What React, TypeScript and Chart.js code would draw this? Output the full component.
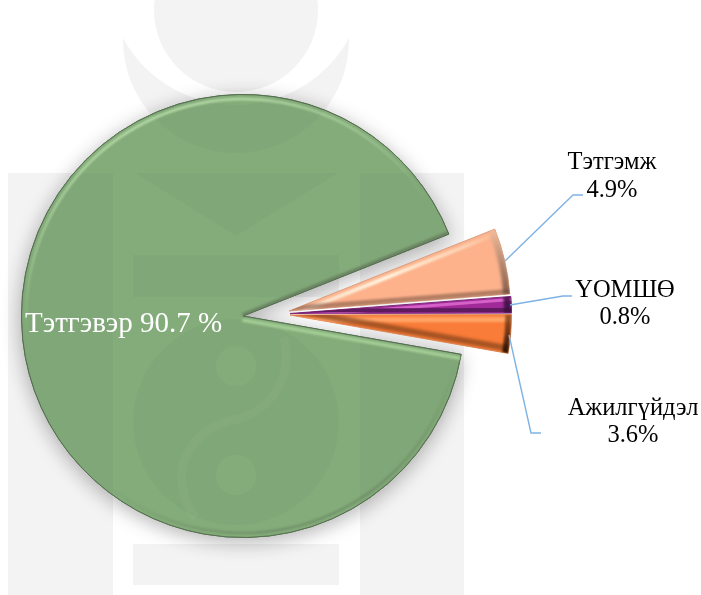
import React, { useEffect, useRef } from "react";
import { Chart, registerables } from "chart.js";

Chart.register(...registerables);

// Category names and the percentages printed on the labels
const categories = ["Тэтгэмж", "ҮОМШӨ", "Ажилгүйдэл", "Тэтгэвэр"];
const printedPercents = ["4.9%", "0.8%", "3.6%", "90.7 %"];
// Slice shares as they are drawn in the picture (measured from the slice angles)
const drawnShares = [4.8, 1.2, 2.8, 91.2];
const sliceColors = ["#fdb28c", "#a02a98", "#f97c38", "#84ac7a"];
const sliceBorders = ["#d9a184", "#7d2a78", "#e08a58", "#566f50"];

const SERIF = '"Liberation Serif", "Times New Roman", serif';

function drawWatermark(ctx: CanvasRenderingContext2D, fill: string) {
  ctx.save();
  ctx.fillStyle = fill;
  ctx.beginPath();
  ctx.arc(236, 10, 82, 0, Math.PI * 2);
  ctx.closePath();
  // crescent
  ctx.moveTo(123, 38);
  ctx.arc(236, 40, 113, Math.PI, 0, true);
  ctx.arc(236, -24, 129, 0.5, Math.PI - 0.5, false);
  ctx.closePath();
  // columns and bars
  ctx.rect(8, 173, 105, 422);
  ctx.rect(360, 173, 104, 422);
  ctx.rect(133, 255, 206, 42);
  ctx.rect(133, 544, 206, 41);
  // triangle
  ctx.moveTo(135, 173);
  ctx.lineTo(338, 173);
  ctx.lineTo(236, 236);
  ctx.closePath();
  // yin-yang disc with two dots cut out
  ctx.moveTo(339, 422);
  ctx.arc(236, 422, 103, 0, Math.PI * 2);
  ctx.closePath();
  ctx.moveTo(256, 366);
  ctx.arc(236, 366, 20, 0, Math.PI * 2, true);
  ctx.closePath();
  ctx.moveTo(256, 475);
  ctx.arc(236, 475, 20, 0, Math.PI * 2, true);
  ctx.closePath();
  ctx.fill("nonzero");
  ctx.restore();
}

function sBand(ctx: CanvasRenderingContext2D, color: string) {
  ctx.save();
  ctx.strokeStyle = color;
  ctx.lineWidth = 9;
  ctx.beginPath();
  ctx.moveTo(283, 337);
  ctx.bezierCurveTo(295, 368, 275, 412, 233, 420);
  ctx.bezierCurveTo(195, 428, 176, 462, 183, 490);
  ctx.bezierCurveTo(185, 502, 190, 511, 196, 518);
  ctx.stroke();
  ctx.restore();
}

function arcPath(ctx: CanvasRenderingContext2D, a: any) {
  ctx.beginPath();
  ctx.moveTo(a.x, a.y);
  ctx.arc(a.x, a.y, a.outerRadius, a.startAngle, a.endAngle);
  ctx.closePath();
}

function edge(ctx: CanvasRenderingContext2D, a: any, angle: number, inset: number, width: number, color: string | CanvasGradient, blur = 1) {
  const nx = -Math.sin(angle) * inset;
  const ny = Math.cos(angle) * inset;
  ctx.save();
  ctx.filter = `blur(${blur}px)`;
  ctx.strokeStyle = color;
  ctx.lineWidth = width;
  ctx.beginPath();
  ctx.moveTo(a.x + nx, a.y + ny);
  ctx.lineTo(a.x + nx + Math.cos(angle) * a.outerRadius, a.y + ny + Math.sin(angle) * a.outerRadius);
  ctx.stroke();
  ctx.restore();
}

function rim(ctx: CanvasRenderingContext2D, a: any, inset: number, width: number, color: string | CanvasGradient, blur = 1) {
  ctx.save();
  ctx.filter = `blur(${blur}px)`;
  ctx.strokeStyle = color;
  ctx.lineWidth = width;
  ctx.beginPath();
  ctx.arc(a.x, a.y, a.outerRadius - inset, a.startAngle, a.endAngle);
  ctx.stroke();
  ctx.restore();
}

const piePlugin = {
  id: "piePlugin",
  afterDatasetsUpdate(chart: any) {
    // The small slices share one displaced apex
    const shifts = [[46, -5], [47, -2.5], [47, -1]];
    const arcs = chart.getDatasetMeta(0).data;
    shifts.forEach(([dx, dy], i) => {
      arcs[i].x += dx;
      arcs[i].y += dy;
    });
  },
  beforeDatasetsDraw(chart: any) {
    const ctx: CanvasRenderingContext2D = chart.ctx;
    drawWatermark(ctx, "#f3f3f3");
    sBand(ctx, "#ffffff");
    const green = chart.getDatasetMeta(0).data[3];
    ctx.save();
    ctx.shadowColor = "rgba(0,0,0,0.3)";
    ctx.shadowBlur = 20;
    ctx.shadowOffsetY = 4;
    green.draw(ctx);
    ctx.restore();
  },
  afterDatasetsDraw(chart: any) {
    const ctx: CanvasRenderingContext2D = chart.ctx;
    const [peach, purple, orange, green] = chart.getDatasetMeta(0).data;

    // green slice
    ctx.save();
    arcPath(ctx, green);
    ctx.clip();
    drawWatermark(ctx, "rgba(0,0,0,0.022)");
    sBand(ctx, "rgba(255,255,255,0.03)");
    const g = ctx.createLinearGradient(170, 90, 330, 530);
    g.addColorStop(0, "rgba(195,232,180,0.95)");
    g.addColorStop(0.22, "rgba(190,228,176,0.45)");
    g.addColorStop(0.42, "rgba(170,210,155,0)");
    g.addColorStop(0.75, "rgba(90,110,85,0)");
    g.addColorStop(1, "rgba(80,95,75,0.42)");
    rim(ctx, green, 4.5, 2.5, g, 0.9);
    edge(ctx, green, green.startAngle, 4, 3.5, "#a4cf96", 1);
    edge(ctx, green, green.endAngle, -1, 4, "rgba(95,115,90,0.7)", 1);
    ctx.restore();

    // peach slice
    ctx.save();
    arcPath(ctx, peach);
    ctx.clip();
    const p = ctx.createLinearGradient(peach.x, peach.y, peach.x + 210, peach.y);
    p.addColorStop(0, "#f8d8c0");
    p.addColorStop(0.45, "#fff6e0");
    p.addColorStop(0.85, "#fdd0b0");
    p.addColorStop(1, "#fdb28c");
    edge(ctx, peach, peach.startAngle, 5, 4, p, 1);
    edge(ctx, peach, peach.endAngle, -2.5, 5, "rgba(130,90,70,0.6)", 1);
    const pr = ctx.createLinearGradient(0, peach.y - 82, 0, peach.y - 15);
    pr.addColorStop(0, "rgba(240,190,160,0.85)");
    pr.addColorStop(1, "rgba(90,65,50,0.75)");
    rim(ctx, peach, 3, 7, pr, 1.5);
    ctx.restore();

    // purple slice
    ctx.save();
    arcPath(ctx, purple);
    ctx.clip();
    edge(ctx, purple, purple.startAngle, 3, 3, "#d560c8", 0.7);
    edge(ctx, purple, purple.endAngle, -3, 4, "#5f1a60", 0.7);
    rim(ctx, purple, 4, 7, "rgba(60,15,65,0.85)", 0.8);
    ctx.restore();

    // orange slice
    ctx.save();
    arcPath(ctx, orange);
    ctx.clip();
    edge(ctx, orange, orange.startAngle, 5, 5, "#ffa466", 1);
    edge(ctx, orange, orange.endAngle, -5, 6, "rgba(130,65,25,0.7)", 1.4);
    const or = ctx.createLinearGradient(0, orange.y, 0, orange.y + 38);
    or.addColorStop(0, "rgba(130,65,25,0.75)");
    or.addColorStop(1, "rgba(30,15,5,0.95)");
    rim(ctx, orange, 3, 6, or, 1.2);
    ctx.restore();

    // leader lines
    ctx.save();
    ctx.strokeStyle = "#7fb2e5";
    ctx.lineWidth = 1.4;
    const leaders = [
      [[505, 261], [573, 195], [583, 195]],
      [[510, 305], [563, 296], [572, 296]],
      [[509, 335], [531, 433], [541, 433]],
    ];
    leaders.forEach((pts) => {
      ctx.beginPath();
      pts.forEach(([x, y], i) => (i ? ctx.lineTo(x, y) : ctx.moveTo(x, y)));
      ctx.stroke();
    });
    ctx.restore();

    // text labels
    ctx.save();
    ctx.textBaseline = "alphabetic";
    ctx.textAlign = "center";
    ctx.fillStyle = "#000000";
    ctx.font = `24.5px ${SERIF}`;
    const spots = [[612, 169, 197], [625, 297, 324], [633, 415, 442]];
    spots.forEach(([x, y1, y2], i) => {
      ctx.fillText(categories[i], x, y1);
      ctx.fillText(printedPercents[i], x, y2);
    });
    ctx.fillStyle = "#ffffff";
    ctx.font = `29px ${SERIF}`;
    ctx.textAlign = "left";
    ctx.fillText(`${categories[3]} ${printedPercents[3]}`, 25, 332);
    ctx.restore();
  },
};

export default function App() {
  const ref = useRef<HTMLCanvasElement | null>(null);
  useEffect(() => {
    if (!ref.current) return;
    const chart = new Chart(ref.current, {
      type: "pie",
      data: {
        labels: categories,
        datasets: [
          {
            data: drawnShares,
            backgroundColor: sliceColors,
            borderColor: sliceBorders,
            borderWidth: 1,
            borderAlign: "center",
          },
        ],
      },
      options: {
        responsive: false,
        animation: false,
        rotation: 68.3,
        layout: { padding: { left: 21, top: 94, right: 236, bottom: 57 } },
        plugins: { legend: { display: false }, tooltip: { enabled: false }, title: { display: false } },
      },
      plugins: [piePlugin],
    } as any);
    return () => chart.destroy();
  }, []);
  return (
    <div style={{ position: "fixed", left: 0, top: 0, width: 701, height: 595, background: "#ffffff" }}>
      <canvas ref={ref} width={701} height={595} style={{ display: "block" }} />
    </div>
  );
}
